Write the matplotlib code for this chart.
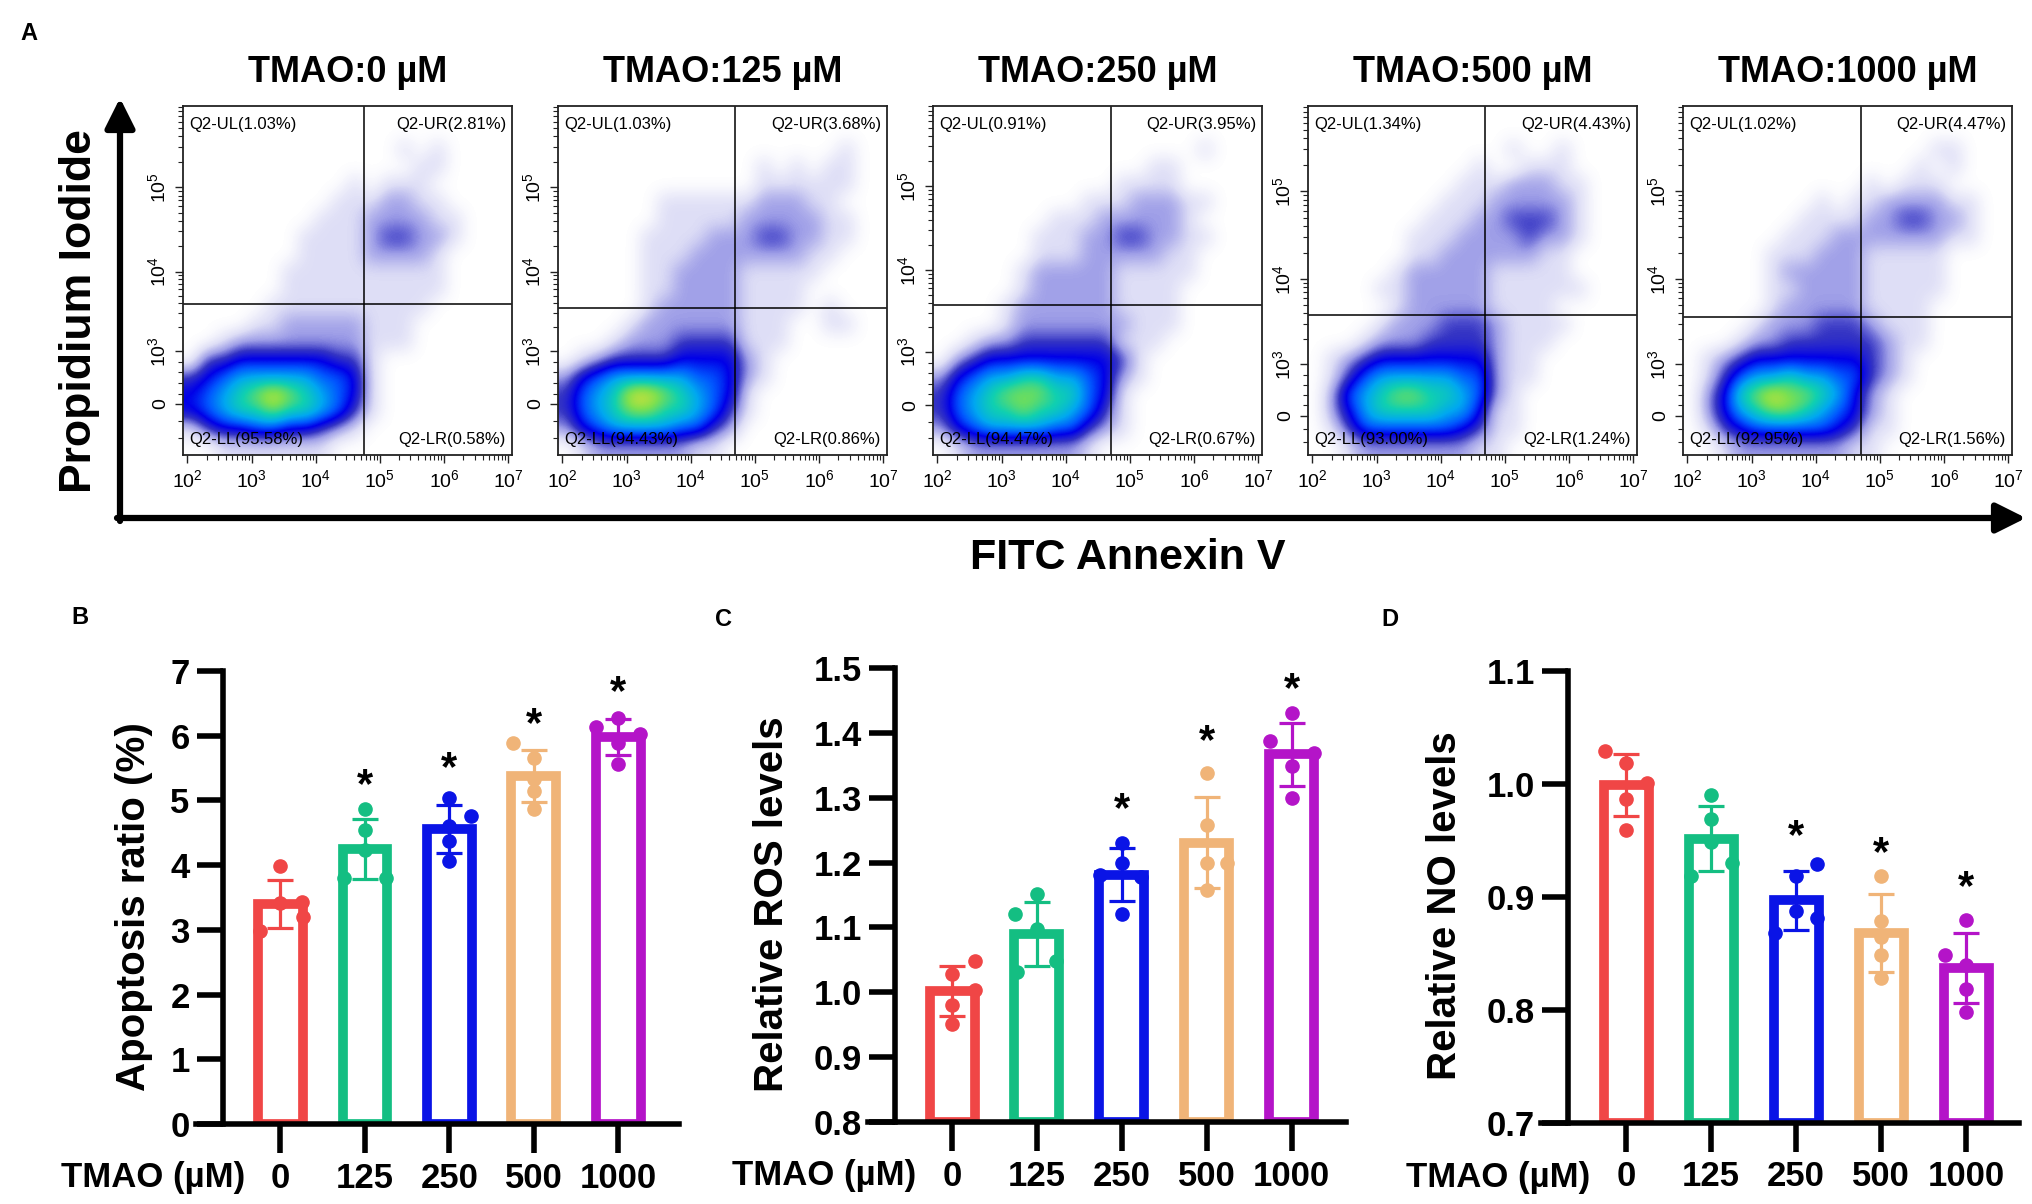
import numpy as np
import matplotlib
matplotlib.use('Agg')
import matplotlib.pyplot as plt
from matplotlib.colors import LinearSegmentedColormap
from matplotlib.transforms import blended_transform_factory, ScaledTranslation

plt.rcParams['font.family'] = ['Liberation Sans', 'DejaVu Sans']
plt.rcParams['mathtext.default'] = 'regular'

# ---------------- data ----------------
doses = ['0', '125', '250', '500', '1000']

# panel A: quadrant statistics
quad_ul = [1.03, 1.03, 0.91, 1.34, 1.02]
quad_ur = [2.81, 3.68, 3.95, 4.43, 4.47]
quad_ll = [95.58, 94.43, 94.47, 93.00, 92.95]
quad_lr = [0.58, 0.86, 0.67, 1.24, 1.56]
gate_x = [4.76, 4.69, 4.71, 4.69, 4.70]        # log10 FITC
gate_y = [0.432, 0.42, 0.43, 0.40, 0.394]      # PI display fraction
pi_ticks = [[0.146, 0.297, 0.525, 0.767],
            [0.146, 0.297, 0.525, 0.767],
            [0.143, 0.295, 0.530, 0.770],
            [0.113, 0.260, 0.504, 0.756],
            [0.113, 0.260, 0.504, 0.756]]
pi_labels = ['0', '$10^{3}$', '$10^{4}$', '$10^{5}$']

# density of events (0 = empty ... 9 = densest),
# 20 x 20 cells, top row first
density = [
    ["00000000000000000000", "00000000000000000000", "00000000000001010000",
     "00000000000000110000", "00000000001011100000", "00000000011122110000",
     "00000000111222211000", "00000001111233221000", "00000001111222210000",
     "00000011111111110000", "00000011111111110000", "00000111111111100000",
     "00001122222111000000", "00122222222111000000", "03344444433100000000",
     "34566666554100000000", "45678987654100000000", "45677877653100000000",
     "13445544321000000000", "00111111100000000000"],
    ["00000000000000000000", "00000000000000000000", "00000000000000000100",
     "00000000000010101100", "00000000000011111100", "00000011111122211000",
     "00000011111222221100", "00000111122233221100", "00000111222222211000",
     "00000112222111110000", "00000112222111100000", "00000122222111101000",
     "00001222222111001100", "00012223333111000000", "01233334444210000000",
     "24566666554210000000", "35679987654100000000", "35678877653100000000",
     "24566665532000000000", "01222222110000000000"],
    ["00000000000000000000", "00000000000000000000", "00000000000000001000",
     "00000000000001100000", "00000000000111100000", "00000000011122211000",
     "00000001112222210000", "00000011122332211000", "00000011122222110000",
     "00000122222111110000", "00000122222111100000", "00001222222111100000",
     "00001222222211100000", "00122333333111000000", "02344444444310000000",
     "24566776654210000000", "35678887754100000000", "35677877653100000000",
     "24566665532100000000", "01222222210000000000"],
    ["00000000000000000000", "00000000000000000000", "00000000000010010000",
     "00000000001001110000", "00000000011122211000", "00000000111222221000",
     "00000001112233321000", "00000011122223221000", "00000011222222110000",
     "00000122222111110000", "00001122222111111000", "00000122222111100000",
     "00001222333211110000", "00012223333211100000", "01234444444211000000",
     "01356666655211000000", "02567887765210000000", "02467777664110000000",
     "01355555543110000000", "00122222221100000000"],
    ["00000000000000000000", "00000000000000000000", "00000000000000011000",
     "00000000000000101000", "00000000000101110000", "00000000101122221100",
     "00000001111223322100", "00000011122222221100", "00000111222111110000",
     "00000122222111110000", "00000112222111110000", "00000122222111100000",
     "00001222333211100000", "00012233333321100000", "01234444444321000000",
     "01356676655321000000", "02478988764210000000", "02467887654210000000",
     "01345555543110000000", "00122222221100000000"],
]

# panels B-D: individual replicates
apoptosis = [[3.98, 3.42, 3.43, 3.20, 2.99],
             [4.86, 4.54, 4.23, 3.80, 3.80],
             [5.03, 4.76, 4.60, 4.37, 4.06],
             [5.88, 5.66, 5.33, 5.14, 4.86],
             [6.28, 6.14, 6.03, 5.88, 5.57]]
ros = [[1.049, 1.028, 1.003, 0.980, 0.951],
       [1.151, 1.120, 1.098, 1.049, 1.031],
       [1.230, 1.199, 1.181, 1.178, 1.120],
       [1.338, 1.258, 1.200, 1.200, 1.157],
       [1.430, 1.387, 1.369, 1.349, 1.299]]
no_levels = [[1.029, 1.019, 1.001, 0.987, 0.959],
             [0.990, 0.969, 0.949, 0.930, 0.919],
             [0.929, 0.919, 0.888, 0.881, 0.868],
             [0.919, 0.879, 0.865, 0.849, 0.828],
             [0.880, 0.849, 0.840, 0.819, 0.798]]
# significance stars (centre height, None = no star)
stars_b = [None, 5.39, 5.66, 6.34, 6.83]
stars_c = [None, None, 1.298, 1.403, 1.483]
stars_d = [None, None, 0.963, 0.948, 0.918]

# scatter offsets of the replicate dots (fraction of bar spacing)
jit_b = [[0, 0, 0.26, 0.27, -0.24], [0, 0, 0, -0.25, 0.25], [0, 0.26, 0, 0, 0],
         [-0.25, 0, 0, 0, 0], [0, -0.26, 0.26, 0, 0]]
jit_c = [[0.27, 0, 0.27, 0, 0], [0, -0.26, 0, 0.22, -0.23], [0, 0, -0.26, 0.23, 0],
         [0, 0, 0, 0.24, 0], [0, -0.26, 0.26, 0, 0]]
jit_d = [[-0.25, 0, 0.25, 0, 0], [0, 0, 0, 0.24, -0.24], [0.25, 0, 0, 0.25, -0.25],
         [0, 0, 0, 0, 0], [0, -0.25, 0, 0, 0]]

colors = ['#F04646', '#14BE82', '#0A14E6', '#F0B478', '#B414C8']
level_colors = ['#ffffff', '#dedef6', '#a0a0e8', '#3434c4', '#0000e8',
                '#0058ff', '#00a8f0', '#10d0b0', '#7ce050', '#e8e030']

# ---------------- figure ----------------
W, H = 2033, 1204
fig = plt.figure(figsize=(W / 100, H / 100), dpi=100)

over = fig.add_axes([0, 0, 1, 1], zorder=-5)
over.set_xlim(0, W)
over.set_ylim(H, 0)
over.axis('off')
arrow = dict(arrowstyle='-|>,head_length=0.9,head_width=0.45', lw=4.5, color='black',
             shrinkA=0, shrinkB=0, mutation_scale=20)
over.annotate('', xy=(120, 98), xytext=(120, 521), arrowprops=arrow)
over.annotate('', xy=(2026, 518), xytext=(117, 518), arrowprops=arrow)

fig.text(80 / W, 1 - 311 / H, 'Propidium Iodide', rotation=90, fontsize=32,
         fontweight='bold', ha='center', va='center')
fig.text(1128 / W, 1 - 558 / H, 'FITC Annexin V', fontsize=31,
         fontweight='bold', ha='center', va='center')
for lab, (lx, ly) in zip('ABCD', [(29, 34), (80, 618), (723, 620), (1390, 620)]):
    fig.text(lx / W, 1 - ly / H, lab, fontsize=17, fontweight='bold', ha='center', va='center')

cmap = LinearSegmentedColormap.from_list('flow', level_colors)
narrow = ['Liberation Sans Narrow', 'Liberation Sans', 'DejaVu Sans']

for i in range(5):
    ax = fig.add_axes([(183 + 375 * i) / W, 1 - 455 / H, 329 / W, 349 / H])
    xlo, xhi = 1.93, 7.06
    grid = np.array([[int(c) for c in row.ljust(20, '0')[:20]] for row in density[i]], float)
    ax.imshow(grid, cmap=cmap, vmin=0, vmax=9, extent=(xlo, xhi, 0, 1), origin='upper',
              aspect='auto', interpolation='bicubic', zorder=0)
    ax.set_xlim(xlo, xhi)
    ax.set_ylim(0, 1)
    ax.axvline(gate_x[i], color='black', lw=1.1, zorder=2)
    ax.axhline(gate_y[i], color='black', lw=1.1, zorder=2)

    qs = dict(transform=ax.transAxes, fontsize=12, family=narrow, va='center', zorder=3)
    ax.text(0.02, 0.948, f'Q2-UL({quad_ul[i]:.2f}%)', ha='left', **qs)
    ax.text(0.982, 0.948, f'Q2-UR({quad_ur[i]:.2f}%)', ha='right', **qs)
    ax.text(0.02, 0.045, f'Q2-LL({quad_ll[i]:.2f}%)', ha='left', **qs)
    ax.text(0.982, 0.045, f'Q2-LR({quad_lr[i]:.2f}%)', ha='right', **qs)

    ax.set_xticks(range(2, 8))
    ax.set_xticklabels([f'$10^{{{k}}}$' for k in range(2, 8)], fontsize=14, family=narrow)
    ax.set_xticks([k + np.log10(m) for k in range(2, 7) for m in range(2, 10)], minor=True)
    p = pi_ticks[i]
    ax.set_yticks(p)
    ax.set_yticklabels(pi_labels, fontsize=14, family=narrow, rotation=90, va='center')
    yminor = list(np.linspace(0, p[0], 4)[1:-1]) + list(np.linspace(p[0], p[1], 6)[1:-1])
    for a, b in [(p[1], p[2]), (p[2], p[3]), (p[3], p[3] + (p[3] - p[2]))]:
        yminor += [a + (b - a) * np.log10(m) for m in range(2, 10) if a + (b - a) * np.log10(m) < 1]
    ax.set_yticks(yminor, minor=True)
    ax.tick_params(which='major', length=6, width=1, direction='out', pad=4, color='#222222')
    ax.tick_params(which='minor', length=3.5, width=0.8, direction='out', color='#222222')
    for s in ax.spines.values():
        s.set_linewidth(1.3)
        s.set_color('#222222')
    ax.text(0.5, 1.095, f'TMAO:{doses[i]} µM', transform=ax.transAxes, ha='center',
            va='center', fontsize=26, fontweight='bold')


def draw_bars(rect, samples, offsets, stars, ylabel, ylo, yhi, yticks, fmt, xlim, yaxis_x):
    ax = fig.add_axes(rect)
    x = np.arange(len(doses))
    means = np.array([np.mean(s) for s in samples])
    sds = np.array([np.std(s, ddof=1) for s in samples])
    bars = ax.bar(x, means - ylo, bottom=ylo, width=0.53, color='white',
                  edgecolor=colors, linewidth=7, zorder=1)
    for b in bars:
        b.set_joinstyle('miter')
    for k in range(len(doses)):
        ax.errorbar(x[k], means[k], yerr=sds[k], color=colors[k], capsize=9.5,
                    capthick=2.3, elinewidth=2.3, zorder=2)
        ax.plot(x[k] + np.array(offsets[k]), samples[k], 'o', ms=9.5, color=colors[k],
                zorder=3, clip_on=False)
        if stars[k] is not None:
            ax.annotate('*', (x[k], stars[k]), xytext=(0, -16), textcoords='offset points',
                        ha='center', va='baseline', fontsize=30, fontweight='bold',
                        annotation_clip=False)
    ax.set_xlim(*xlim)
    ax.set_ylim(ylo, yhi)
    ax.spines['top'].set_visible(False)
    ax.spines['right'].set_visible(False)
    ax.spines['left'].set_position(('data', yaxis_x))
    for s in ('left', 'bottom'):
        ax.spines[s].set_linewidth(4)
    ax.set_xticks(x)
    ax.set_xticklabels(doses)
    ax.set_yticks(yticks)
    ax.set_yticklabels([fmt.format(v) for v in yticks])
    ax.tick_params(axis='y', length=19, width=4, labelsize=25, pad=5)
    ax.tick_params(axis='x', length=21, width=4, labelsize=25, pad=6)
    for lab in ax.get_xticklabels() + ax.get_yticklabels():
        lab.set_fontweight('bold')
    ax.text(-0.128 if yhi > 5 else -0.2, 0.48, ylabel, transform=ax.transAxes, rotation=90,
            ha='center', va='center', fontsize=29, fontweight='bold')
    tr = blended_transform_factory(ax.transData, ax.transAxes) + \
        ScaledTranslation(0, -27 / 72, fig.dpi_scale_trans)
    ax.text(-0.42, 0, 'TMAO (µM)', transform=tr, ha='right', va='top',
            fontsize=25, fontweight='bold')
    return ax


draw_bars([196 / W, 1 - 1124 / H, 483 / W, 453 / H], apoptosis, jit_b, stars_b,
          'Apoptosis ratio (%)', 0, 7, np.arange(0, 8), '{:.0f}', (-1.0, 4.72), -0.68)
draw_bars([868 / W, 1 - 1122 / H, 478 / W, 454 / H], ros, jit_c, stars_c,
          'Relative ROS levels', 0.8, 1.5, np.round(np.arange(0.8, 1.51, 0.1), 1), '{:.1f}',
          (-0.99, 4.64), -0.67)
draw_bars([1541 / W, 1 - 1123 / H, 478 / W, 452 / H], no_levels, jit_d, stars_d,
          'Relative NO levels', 0.7, 1.1, np.round(np.arange(0.7, 1.11, 0.1), 1), '{:.1f}',
          (-1.0, 4.62), -0.68)

fig.savefig('out.png', dpi=100, facecolor='white')
